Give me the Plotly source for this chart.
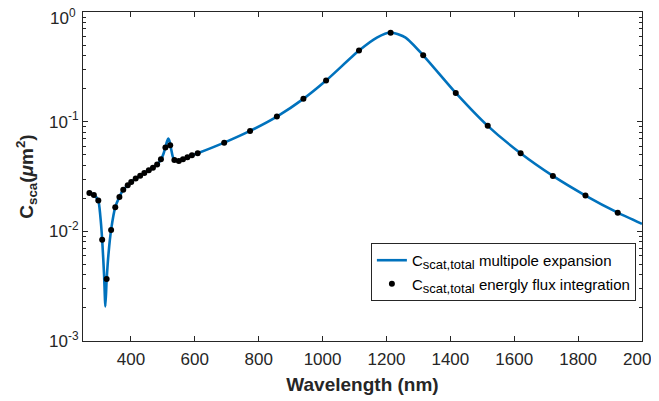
import plotly.graph_objects as go

# Energy flux integration points (nm, um^2)
pts_wl = [270, 284, 298, 310, 324, 338, 351, 364, 376, 390, 401, 415, 429, 442, 456,
          469, 482, 494, 508, 523, 536, 550, 563, 577, 591, 609, 692, 773, 857, 940,
          1011, 1114, 1213, 1315, 1417, 1517, 1620, 1721, 1823, 1924]
pts_c = [0.0224, 0.0215, 0.0191, 0.0084, 0.00368, 0.0103, 0.0166, 0.0206, 0.0239, 0.0263,
         0.0282, 0.0303, 0.0322, 0.0341, 0.0360, 0.0381, 0.0406, 0.0454, 0.0581, 0.0609,
         0.0448, 0.0439, 0.0454, 0.0473, 0.0493, 0.0515, 0.0644, 0.0824, 0.1113, 0.1614,
         0.237, 0.445, 0.646, 0.403, 0.183, 0.0916, 0.0515, 0.0320, 0.0212, 0.0148]

# Multipole expansion curve
line_wl = [270, 284, 298, 304, 310, 316, 320, 324, 330, 338, 351, 364, 376, 390, 401,
           415, 429, 442, 456, 469, 482, 494, 502, 508, 513, 517, 521, 526, 531, 536,
           550, 563, 577, 591, 609, 692, 773, 857, 940, 1011, 1114, 1170, 1213, 1260,
           1315, 1417, 1517, 1620, 1721, 1823, 1924, 2000]
line_c = [0.0224, 0.0215, 0.0190, 0.0140, 0.0084, 0.0040, 0.00207, 0.0036, 0.0063, 0.0103,
          0.0166, 0.0206, 0.0239, 0.0263, 0.0282, 0.0303, 0.0322, 0.0341, 0.0360, 0.0381,
          0.0406, 0.0450, 0.0510, 0.0585, 0.0660, 0.0700, 0.0660, 0.0560, 0.0480, 0.0448,
          0.0439, 0.0454, 0.0473, 0.0493, 0.0515, 0.0644, 0.0824, 0.1113, 0.1614, 0.237,
          0.445, 0.585, 0.650, 0.585, 0.403, 0.183, 0.0916, 0.0515, 0.0320, 0.0212, 0.0148,
          0.0117]

x_ticks = [400, 600, 800, 1000, 1200, 1400, 1600, 1800, 2000]
y_ticks = [0.001, 0.01, 0.1, 1]
y_tick_text = ["10<sup>-3</sup>", "10<sup>-2</sup>", "10<sup>-1</sup>", ""]
top_tick_label = "10<sup>0</sup>"

minor_y = [m * 10 ** e for e in (-3, -2, -1) for m in range(2, 10)]

axis_col = "#262626"
font = "Liberation Sans, Arial, Helvetica, sans-serif"
sub = '<sub><span style="font-size:13px">scat,total</span></sub>'

fig = go.Figure()
fig.add_trace(go.Scatter(
    x=line_wl, y=line_c, mode="lines",
    line=dict(color="#0072BD", width=2.6, shape="spline", smoothing=0.6),
    legendgroup="a",
    name="C" + sub + " multipole expansion"))
fig.add_trace(go.Scatter(
    x=pts_wl, y=pts_c, mode="markers",
    marker=dict(color="black", size=6),
    legendgroup="b",
    name="C" + sub + " energly flux integration"))

# top decade label kept inside the page (as in the reference, slightly below the tick)
fig.add_annotation(text=top_tick_label, xref="paper", yref="y", x=0, y=0,
                   xanchor="right", yanchor="middle", xshift=-5, yshift=-5,
                   showarrow=False, font=dict(size=17, color=axis_col, family=font))

# the page body adds an 8px offset; margins are chosen to compensate
fig.update_layout(
    width=659, height=401,
    margin=dict(l=75, r=25, t=4, b=68, autoexpand=False),
    paper_bgcolor="white", plot_bgcolor="white",
    font=dict(family=font, size=15, color=axis_col),
    showlegend=True,
    legend=dict(x=0.515, y=0.298, xanchor="left", yanchor="top",
                bgcolor="white", bordercolor=axis_col, borderwidth=1,
                font=dict(size=15, color="black"), tracegroupgap=1,
                traceorder="grouped", itemwidth=30),
    xaxis=dict(range=[250, 2000], tickvals=x_ticks, ticks="inside", ticklen=5,
               tickcolor=axis_col, showline=True, linecolor=axis_col, linewidth=1,
               mirror="ticks", showgrid=False, zeroline=False, automargin=False,
               ticklabeloverflow="allow", ticklabelstandoff=3,
               tickfont=dict(size=17, color=axis_col),
               title=dict(text="<b>Wavelength (nm)</b>", font=dict(size=19, color=axis_col),
                          standoff=9)),
    yaxis=dict(type="log", range=[-3, 0], tickvals=y_ticks, ticktext=y_tick_text,
               ticks="inside", ticklen=5, tickcolor=axis_col, showline=True,
               linecolor=axis_col, linewidth=1, mirror="ticks", showgrid=False,
               zeroline=False, automargin=False, ticklabeloverflow="allow",
               tickfont=dict(size=17, color=axis_col),
               minor=dict(tickvals=minor_y, ticks="inside", ticklen=3, tickcolor=axis_col,
                          showgrid=False),
               title=dict(text="<b>C<sub>sca</sub>(<i>μ</i>m<sup>2</sup>)</b>",
                          font=dict(size=19, color=axis_col), standoff=10)),
)

fig.write_html("out.html")
